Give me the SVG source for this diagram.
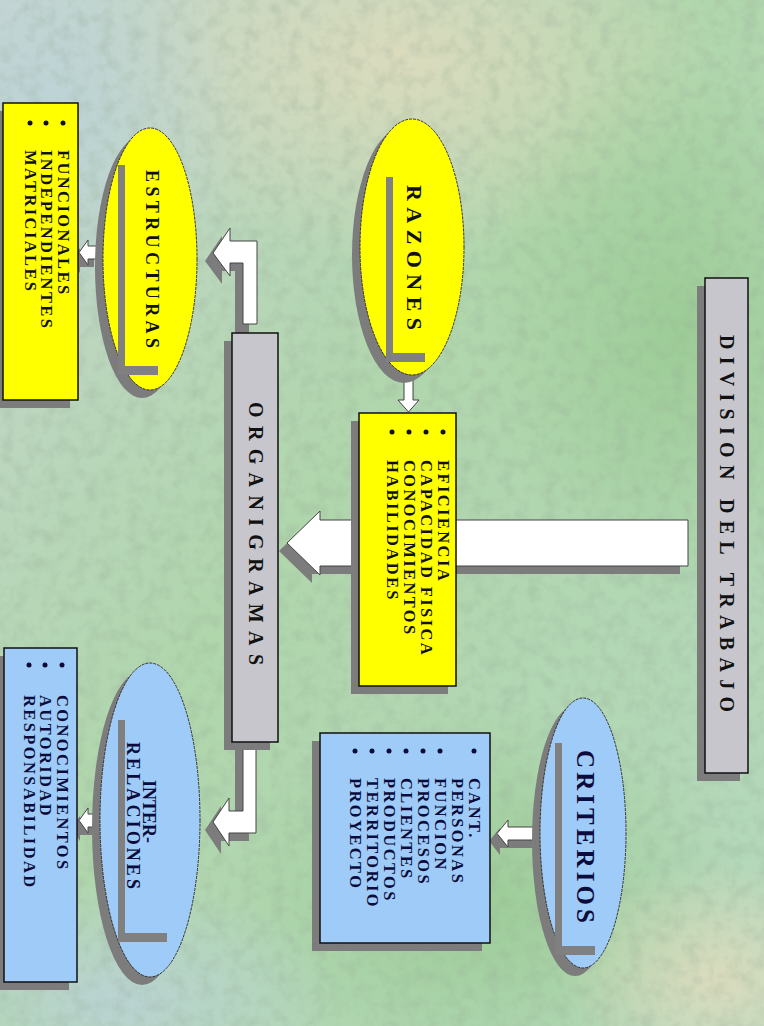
<svg xmlns="http://www.w3.org/2000/svg" width="764" height="1026" viewBox="0 0 764 1026">
<defs>
<linearGradient id="bg" x1="0" y1="0" x2="1" y2="1">
<stop offset="0" stop-color="#c6d6cf"/>
<stop offset="0.45" stop-color="#b0d6ac"/>
<stop offset="1" stop-color="#b4d8bc"/>
</linearGradient>
<radialGradient id="g1" cx="0.5" cy="0.5" r="0.5"><stop offset="0" stop-color="#e2dcbe" stop-opacity="0.85"/><stop offset="1" stop-color="#e2dcbe" stop-opacity="0"/></radialGradient>
<radialGradient id="g2" cx="0.5" cy="0.5" r="0.5"><stop offset="0" stop-color="#98ca90" stop-opacity="0.8"/><stop offset="1" stop-color="#98ca90" stop-opacity="0"/></radialGradient>
<radialGradient id="g3" cx="0.5" cy="0.5" r="0.5"><stop offset="0" stop-color="#bcd2dc" stop-opacity="0.8"/><stop offset="1" stop-color="#bcd2dc" stop-opacity="0"/></radialGradient>
<filter id="tex" x="0" y="0" width="100%" height="100%">
<feTurbulence type="fractalNoise" baseFrequency="0.07" numOctaves="3" seed="4"/>
<feColorMatrix type="matrix" values="0 0 0 0 0.3  0 0 0 0 0.4  0 0 0 0 0.3  0 0 0 1.8 -0.75"/>
</filter>
<style>
.shd{fill:#7c7c7c}
.grey{fill:#c6c6cc;stroke:#111;stroke-width:1.5}
.yel{fill:#ffff00;stroke:#111;stroke-width:1.5}
.blu{fill:#9ecbf7;stroke:#111;stroke-width:1.5}
.ely{fill:#ffff00;stroke:#333;stroke-width:1;stroke-dasharray:3 1}
.elb{fill:#9ecbf7;stroke:#333;stroke-width:1;stroke-dasharray:3 1}
.bar{fill:#808080}
.arw{fill:#ffffff;stroke:#444;stroke-width:1}
.t{font-family:"Liberation Serif","Times New Roman",serif;font-weight:bold;dominant-baseline:central}
.tk{fill:#111}
.tn{fill:#0c0c3c}
.li{font-size:16.5px;letter-spacing:2.4px}
.dot{fill:#111}
.dotn{fill:#0c0c3c}
</style>
</defs>

<g id="background">
<rect width="764" height="1026" fill="url(#bg)"/>
<ellipse cx="400" cy="60" rx="320" ry="200" fill="url(#g1)"/>
<ellipse cx="680" cy="330" rx="200" ry="280" fill="url(#g2)"/>
<ellipse cx="480" cy="900" rx="260" ry="200" fill="url(#g2)"/>
<ellipse cx="40" cy="120" rx="200" ry="220" fill="url(#g3)"/>
<ellipse cx="120" cy="1000" rx="220" ry="120" fill="url(#g3)"/>
<ellipse cx="720" cy="980" rx="160" ry="120" fill="url(#g1)"/>
<rect width="764" height="1026" filter="url(#tex)" opacity="0.35"/>
</g>

<g id="connectors">
<polygon class="shd" points="279,551 312,519 312,528 680,528 680,574 312,574 312,583"/>
<polygon class="arw" points="287,543 320,511 320,520 688,520 688,566 320,566 320,575"/>
<polygon class="shd" points="205,261 222,236 222,249 249,249 249,333 235,333 235,271 222,271 222,284"/>
<polygon class="arw" points="213,253 230,228 230,241 257,241 257,324 243,324 243,263 230,263 230,276"/>
<polygon class="shd" points="205,830 221,806 221,819 235,819 235,750 249,750 249,841 221,841 221,854"/>
<polygon class="arw" points="213,822 229,798 229,811 243,811 243,744 256,744 256,833 229,833 229,846"/>
<polygon class="arw" points="404,376 413,376 413,400 419,400 408.5,412 398,400 404,400"/>
<polygon class="shd" points="94,254 80,254 80,248 71,260.5 80,273 80,267 94,267"/>
<polygon class="arw" points="102,246 88,246 88,240 79,252.5 88,265 88,259 102,259"/>
<polygon class="shd" points="532,835 500,835 500,828 489,841 500,855 500,848 532,848"/>
<polygon class="arw" points="540,827 508,827 508,820 497,833.5 508,847 508,840 540,840"/>
<polygon class="shd" points="92,822 80,822 80,816 71,828 80,841 80,835 92,835"/>
<polygon class="arw" points="100,814 88,814 88,808 79,820.5 88,833 88,827 100,827"/>
</g>

<g id="division">
<rect class="shd" x="697" y="286" width="43" height="495"/>
<rect class="grey" x="705" y="278" width="43" height="495"/>
<text class="t tk" transform="translate(727,335) rotate(90)" font-size="20" textLength="377" lengthAdjust="spacing">DIVISION DEL TRABAJO</text>
</g>

<g id="organigramas">
<rect class="shd" x="224" y="341" width="46" height="409"/>
<rect class="grey" x="232" y="333" width="46" height="409"/>
<text class="t tk" transform="translate(256,402) rotate(90)" font-size="20" textLength="263" lengthAdjust="spacing">ORGANIGRAMAS</text>
</g>

<g id="razones">
<ellipse class="shd" cx="404" cy="255" rx="52" ry="128"/>
<ellipse class="ely" cx="412" cy="247" rx="52" ry="128"/>
<rect class="bar" x="386" y="177" width="7" height="185"/>
<rect class="bar" x="386" y="353" width="39" height="9"/>
<text class="t tk" transform="translate(414,185) rotate(90)" font-size="22" textLength="145" lengthAdjust="spacing">RAZONES</text>
</g>

<g id="razones-lista">
<rect class="shd" x="351" y="421" width="97" height="273"/>
<rect class="yel" x="359" y="413" width="97" height="273"/>
<circle class="dot" cx="443" cy="432" r="2.5"/>
<circle class="dot" cx="426" cy="432" r="2.5"/>
<circle class="dot" cx="409" cy="432" r="2.5"/>
<circle class="dot" cx="392" cy="432" r="2.5"/>
<text class="t tk li" transform="translate(443,460) rotate(90)">EFICIENCIA</text>
<text class="t tk li" transform="translate(426,460) rotate(90)">CAPACIDAD FISICA</text>
<text class="t tk li" transform="translate(409,460) rotate(90)">CONOCIMIENTOS</text>
<text class="t tk li" transform="translate(392,460) rotate(90)">HABILIDADES</text>
</g>

<g id="estructuras">
<ellipse class="shd" cx="142" cy="267" rx="47" ry="131"/>
<ellipse class="ely" cx="150" cy="259" rx="47" ry="131"/>
<rect class="bar" x="118" y="165" width="7" height="210"/>
<rect class="bar" x="118" y="366" width="40" height="9"/>
<text class="t tk" transform="translate(152,170) rotate(90)" font-size="18" textLength="178" lengthAdjust="spacing">ESTRUCTURAS</text>
</g>

<g id="estructuras-lista">
<rect class="shd" x="-5" y="111" width="75" height="297"/>
<rect class="yel" x="3" y="103" width="75" height="297"/>
<circle class="dot" cx="63" cy="123" r="2.5"/>
<circle class="dot" cx="46" cy="123" r="2.5"/>
<circle class="dot" cx="30" cy="123" r="2.5"/>
<text class="t tk li" transform="translate(63,150) rotate(90)">FUNCIONALES</text>
<text class="t tk li" transform="translate(46,150) rotate(90)">INDEPENDIENTES</text>
<text class="t tk li" transform="translate(30,150) rotate(90)">MATRICIALES</text>
</g>

<g id="criterios">
<ellipse class="shd" cx="575" cy="841" rx="43" ry="135"/>
<ellipse class="elb" cx="583" cy="833" rx="43" ry="135"/>
<rect class="bar" x="555" y="743" width="7" height="212"/>
<rect class="bar" x="555" y="946" width="40" height="9"/>
<text class="t tn" transform="translate(585,750) rotate(90)" font-size="25" textLength="173" lengthAdjust="spacing">CRITERIOS</text>
</g>

<g id="criterios-lista">
<rect class="shd" x="312" y="741" width="170" height="210"/>
<rect class="blu" x="320" y="733" width="170" height="210"/>
<circle class="dotn" cx="474" cy="751" r="2.5"/>
<circle class="dotn" cx="440" cy="751" r="2.5"/>
<circle class="dotn" cx="423" cy="751" r="2.5"/>
<circle class="dotn" cx="406" cy="751" r="2.5"/>
<circle class="dotn" cx="389" cy="751" r="2.5"/>
<circle class="dotn" cx="372" cy="751" r="2.5"/>
<circle class="dotn" cx="355" cy="751" r="2.5"/>
<text class="t tn li" transform="translate(474,778) rotate(90)">CANT.</text>
<text class="t tn li" transform="translate(457,778) rotate(90)">PERSONAS</text>
<text class="t tn li" transform="translate(440,778) rotate(90)">FUNCION</text>
<text class="t tn li" transform="translate(423,778) rotate(90)">PROCESOS</text>
<text class="t tn li" transform="translate(406,778) rotate(90)">CLIENTES</text>
<text class="t tn li" transform="translate(389,778) rotate(90)">PRODUCTOS</text>
<text class="t tn li" transform="translate(372,778) rotate(90)">TERRITORIO</text>
<text class="t tn li" transform="translate(355,778) rotate(90)">PROYECTO</text>
</g>

<g id="interrelaciones">
<ellipse class="shd" cx="142" cy="828" rx="50" ry="157"/>
<ellipse class="elb" cx="150" cy="820" rx="50" ry="157"/>
<rect class="bar" x="118" y="720" width="7" height="222"/>
<rect class="bar" x="118" y="933" width="49" height="9"/>
<text class="t tn" transform="translate(149,780) rotate(90)" font-size="18" textLength="63" lengthAdjust="spacing">INTER-</text>
<text class="t tn" transform="translate(133,742) rotate(90)" font-size="18" textLength="147" lengthAdjust="spacing">RELACIONES</text>
</g>

<g id="interrelaciones-lista">
<rect class="shd" x="-4" y="656" width="73" height="334"/>
<rect class="blu" x="4" y="648" width="73" height="334"/>
<circle class="dotn" cx="62" cy="665" r="2.5"/>
<circle class="dotn" cx="45" cy="665" r="2.5"/>
<circle class="dotn" cx="29" cy="665" r="2.5"/>
<text class="t tn li" transform="translate(62,695) rotate(90)">CONOCIMIENTOS</text>
<text class="t tn li" transform="translate(45,695) rotate(90)">AUTORIDAD</text>
<text class="t tn li" transform="translate(29,695) rotate(90)">RESPONSABILIDAD</text>
</g>
</svg>
